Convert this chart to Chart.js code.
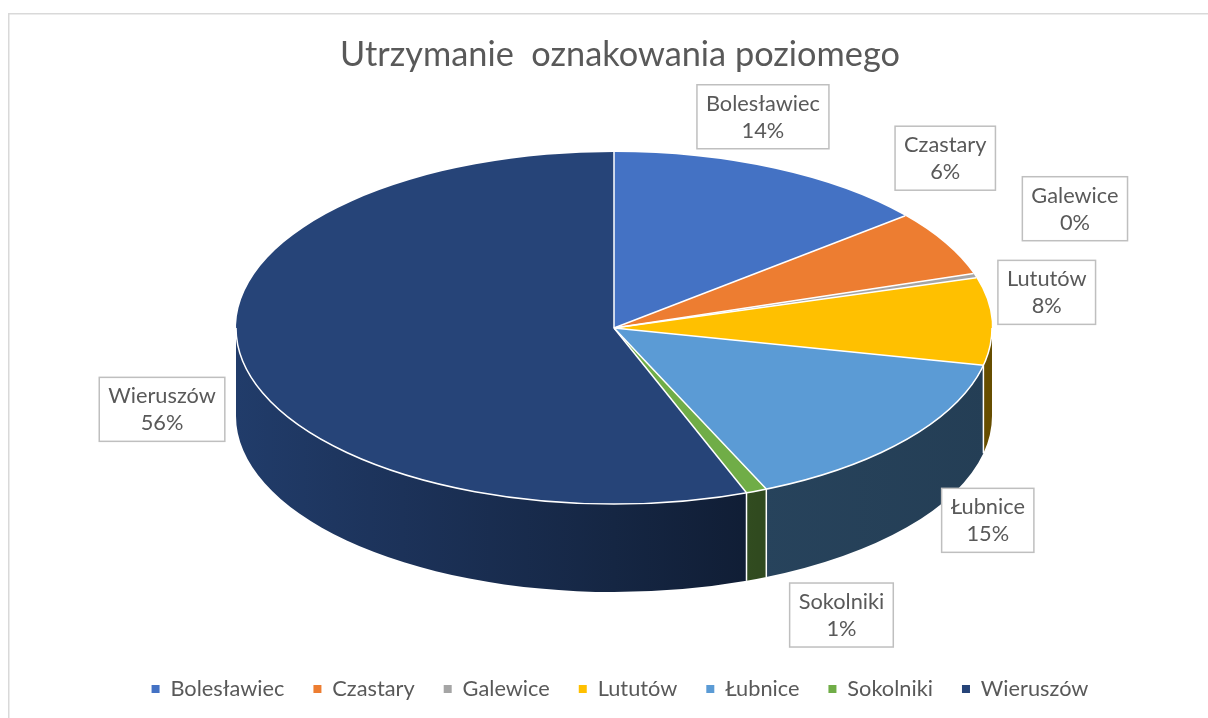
<!DOCTYPE html>
<html><head><meta charset="utf-8">
<script src="https://cdn.jsdelivr.net/npm/chart.js@4.4.1/dist/chart.umd.min.js"></script>
<style>html,body{margin:0;padding:0;background:#fff;overflow:hidden;width:1208px;height:718px}
#wrap{position:relative;width:1208px;height:718px}</style></head>
<body><div id="wrap"><canvas id="c"></canvas></div>
<script>
const categories = ['Bolesławiec','Czastary','Galewice','Lututów','Łubnice','Sokolniki','Wieruszów'];
const shares = [14.0, 6.0, 0.4, 8.0, 15.0, 0.9, 55.7];
const colors = ['#4472C4','#ED7D31','#A5A5A5','#FFC000','#5B9BD5','#70AD47','#264478'];
const titleText = 'Utrzymanie  oznakowania poziomego';

// layout / style constants
const PIE = {cx:614, cy:328, rx:378, ry:176, depth:88};
const LABEL_NUDGE = [[-12,-52],[0,-85],[100,-67],[55,-29],[81,81],[85,124],[-80,50]];
const WALL_SHADE = [[0,0.88],[0.22,0.74],[0.5,0.56],[0.69,0.43],[1,0.4]];
const FONT = 'Lato, "Open Sans", sans-serif';
const TEXT = '#595959';

function fitSize(text, width){
  const c=document.createElement('canvas').getContext('2d');
  c.font='100px '+FONT; return 100*width/c.measureText(text).width;
}
function shade(hex,f){
  const n=parseInt(hex.slice(1),16);
  const r=Math.round(((n>>16)&255)*f), g=Math.round(((n>>8)&255)*f), b=Math.round((n&255)*f);
  return 'rgb('+r+','+g+','+b+')';
}
function pt(a,dy){ return [PIE.cx+PIE.rx*Math.cos(a), PIE.cy+(dy||0)+PIE.ry*Math.sin(a)]; }

function build(){
  const labelSize = fitSize('Bolesławiec', 114);
  const titleSize = fitSize(titleText, 560);
  const total = shares.reduce((a,b)=>a+b,0);

  const pie3d = {
    id:'pie3d',
    beforeDraw(chart){
      const ctx=chart.ctx; ctx.save();
      ctx.strokeStyle='#d9d9d9'; ctx.lineWidth=1.5;
      ctx.beginPath(); ctx.moveTo(8.75, 800); ctx.lineTo(8.75,13.75); ctx.lineTo(1300,13.75); ctx.stroke();
      ctx.restore();
    },
    beforeDatasetsDraw(chart){
      const ctx=chart.ctx; const meta=chart.getDatasetMeta(0);
      const {cx,cy,rx,ry,depth}=PIE;
      ctx.save();
      meta.data.forEach((el,i)=>{
        const a1=Math.max(el.startAngle,0), a2=Math.min(el.endAngle,Math.PI);
        if(a2<=a1) return;
        const g=ctx.createLinearGradient(cx-rx,0,cx+rx,0);
        WALL_SHADE.forEach(([p,f])=>g.addColorStop(p,shade(colors[i],f)));
        ctx.beginPath();
        ctx.ellipse(cx,cy,rx,ry,0,a1,a2);
        ctx.ellipse(cx,cy+depth,rx,ry,0,a2,a1,true);
        ctx.closePath(); ctx.fillStyle=g; ctx.fill();
      });
      // wall separators
      ctx.strokeStyle='#ffffff'; ctx.lineWidth=1.5;
      meta.data.forEach(el=>{
        const b=el.startAngle;
        if(b>0 && b<Math.PI){
          const p1=pt(b), p2=pt(b,depth);
          ctx.beginPath(); ctx.moveTo(p1[0],p1[1]); ctx.lineTo(p2[0],p2[1]); ctx.stroke();
        }
      });
      ctx.restore();
      const e0=meta.data[0];
      ctx.save();
      ctx.translate(cx,cy);
      ctx.scale(rx/e0.outerRadius, ry/e0.outerRadius);
      ctx.translate(-e0.x,-e0.y);
    },
    afterDatasetsDraw(chart){
      const ctx=chart.ctx; ctx.restore();
      const meta=chart.getDatasetMeta(0);
      const {cx,cy,rx,ry}=PIE;
      ctx.save();
      ctx.strokeStyle='#ffffff'; ctx.lineWidth=1.5;
      // rim between top and wall
      ctx.beginPath(); ctx.ellipse(cx,cy,rx,ry,0,0,Math.PI); ctx.stroke();
      // radial separators
      meta.data.forEach(el=>{
        const p=pt(el.startAngle);
        ctx.beginPath(); ctx.moveTo(cx,cy); ctx.lineTo(p[0],p[1]); ctx.stroke();
      });
      // data labels
      ctx.font=labelSize+'px '+FONT;
      ctx.textAlign='center'; ctx.textBaseline='middle';
      meta.data.forEach((el,i)=>{
        const m=(el.startAngle+el.endAngle)/2;
        const p=pt(m);
        const x=p[0]+LABEL_NUDGE[i][0], y=p[1]+LABEL_NUDGE[i][1];
        const l1=categories[i], l2=Math.round(shares[i]/total*100)+'%';
        const w=Math.max(ctx.measureText(l1).width, ctx.measureText(l2).width)+18;
        const h=64;
        ctx.fillStyle='#ffffff'; ctx.fillRect(x-w/2,y-h/2,w,h);
        ctx.strokeStyle='#bfbfbf'; ctx.lineWidth=1.5; ctx.strokeRect(x-w/2,y-h/2,w,h);
        ctx.fillStyle=TEXT;
        ctx.fillText(l1,x,y-13);
        ctx.fillText(l2,x,y+14);
      });
      ctx.restore();
    }
  };

  new Chart(document.getElementById('c'), {
    type:'pie',
    data:{labels:categories, datasets:[{data:shares, backgroundColor:colors, borderWidth:0, borderColor:'#ffffff', hoverOffset:0, clip:false}]},
    options:{
      responsive:true, maintainAspectRatio:false, animation:false, events:[],
      layout:{padding:{left:32,right:0,top:0,bottom:8}},
      plugins:{
        title:{display:true, text:titleText, color:TEXT, font:{family:FONT, size:titleSize, weight:'normal'}, padding:{top:34,bottom:10}},
        legend:{position:'bottom', labels:{boxWidth:8, boxHeight:8, padding:29, color:TEXT, font:{family:FONT, size:labelSize}}},
        tooltip:{enabled:false}
      }
    },
    plugins:[pie3d]
  });
}
if(document.fonts && document.fonts.load){
  Promise.all([document.fonts.load('20px Lato')]).then(build, build);
} else build();
</script></body></html>
